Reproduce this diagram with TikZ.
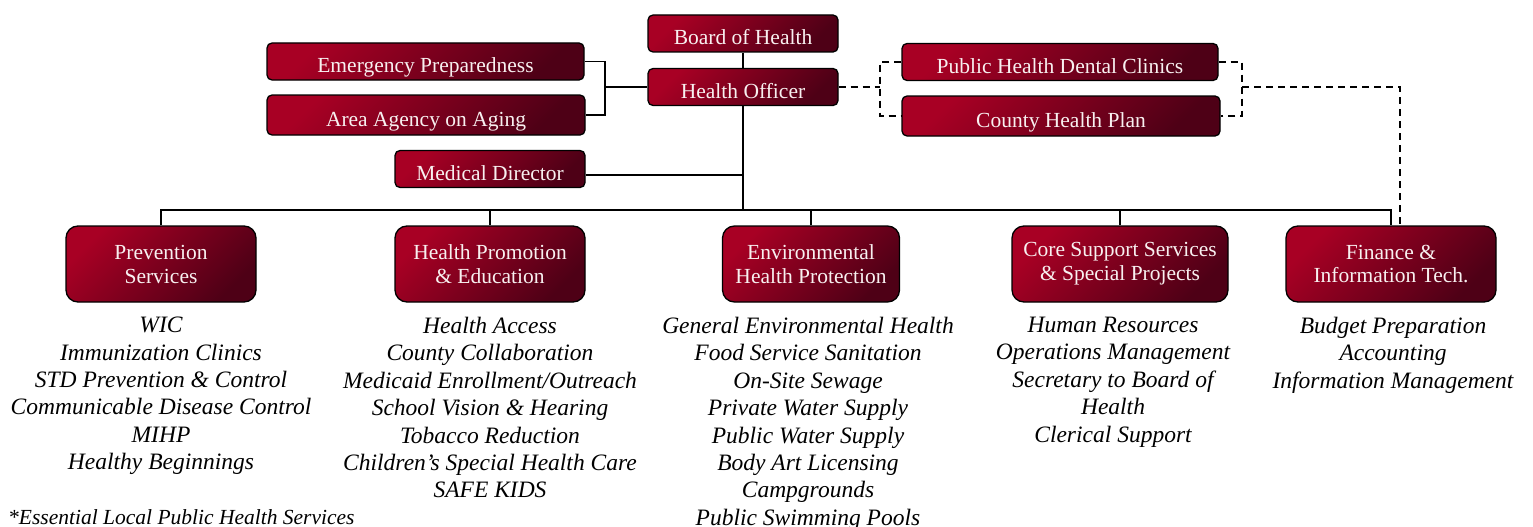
\documentclass[tikz,border=0pt]{standalone}
\usepackage{fontspec}
\setmainfont{Liberation Serif}
\definecolor{bright}{RGB}{168,0,36}
\definecolor{dark}{RGB}{78,0,22}
\definecolor{txt}{RGB}{248,240,240}
\begin{document}
\begin{tikzpicture}[x=1pt,y=-1pt,
 box/.style={draw=black, line width=1.3pt, rounded corners=5pt, top color=bright, bottom color=dark, shading angle=45, text=txt, font=\fontsize{21.5}{24}\selectfont, inner sep=0pt, align=center},
 small/.style={box, minimum height=37pt, text height=23pt, text depth=0pt},
 big/.style={box, rounded corners=12pt, minimum height=76pt},
 lst/.style={font=\fontsize{23.5}{27.4}\selectfont\itshape, align=center, anchor=north, inner sep=0pt},
 conn/.style={line width=1.5pt},
 dconn/.style={line width=1.5pt, dash pattern=on 7pt off 5pt}]
\useasboundingbox (0,0) rectangle (1533,527);

\node[small, minimum width=190pt] (boh) at (743,33.5) {Board of Health};
\node[small, minimum width=190pt] (ho) at (743,87) {Health Officer};
\node[small, minimum width=317pt] (ep) at (425.5,61.5) {Emergency Preparedness};
\node[small, minimum width=318pt, minimum height=40pt] (aa) at (426,115) {Area Agency on Aging};
\node[small, minimum width=190pt] (md) at (490,169) {Medical Director};
\node[small, minimum width=316pt] (pd) at (1060,62) {Public Health Dental Clinics};
\node[small, minimum width=318pt, minimum height=40pt] (ch) at (1061,116) {County Health Plan};

\node[big, minimum width=190pt] (prev) at (161,264) {Prevention\\Services};
\node[big, minimum width=190pt] (hp) at (490,264) {Health Promotion\\\& Education};
\node[big, minimum width=177pt] (env) at (811,264) {Environmental\\Health Protection};
\node[big, minimum width=216pt] (core) at (1120,264) {Core Support Services\\\& Special Projects};
\node[big, minimum width=210pt] (fin) at (1391,264) {Finance \&\\Information Tech.};

\node[lst] (l1) at (161,317) {WIC\\Immunization Clinics\\STD Prevention \& Control\\Communicable Disease Control\\MIHP\\Healthy Beginnings};
\node[lst] (l2) at (490,317) {Health Access\\County Collaboration\\Medicaid Enrollment/Outreach\\School Vision \& Hearing\\Tobacco Reduction\\Children’s Special Health Care\\SAFE KIDS};
\node[lst] (l3) at (808,317) {General Environmental Health\\Food Service Sanitation\\On-Site Sewage\\Private Water Supply\\Public Water Supply\\Body Art Licensing\\Campgrounds\\Public Swimming Pools};
\node[lst] (l4) at (1113,317) {Human Resources\\Operations Management\\Secretary to Board of\\Health\\Clerical Support};
\node[lst] (l5) at (1393,317) {Budget Preparation\\Accounting\\Information Management};
\node[anchor=west, font=\fontsize{21.5}{24}\selectfont\itshape, inner sep=0pt] (fn) at (8,517) {*Essential Local Public Health Services};

% connectors
\draw[conn] (boh) -- (ho);
\coordinate (brk) at (605,87);
\draw[conn] (ep.east) -| (brk) |- (aa.east);
\draw[conn] (brk) -- (ho.west);
\coordinate (mdj) at (743,175);
\draw[conn] (md.east |- mdj) -- (mdj);
\coordinate (bus) at (743,210);
\draw[conn] (ho.south) -- (bus);
\draw[conn] (prev.north) |- (bus) -| (fin.north);
\draw[conn] (hp.north) -- (hp.north |- bus);
\draw[conn] (env.north) -- (env.north |- bus);
\draw[conn] (core.north) -- (core.north |- bus);

\coordinate (dl) at (880,87);
\draw[dconn] (ho.east) -- (dl);
\draw[dconn] (pd.west) -| (dl) |- (ch.west);
\coordinate (dr) at (1242,87);
\draw[dconn] (pd.east) -| (dr) |- (ch.east);
\coordinate (fd) at (1400,87);
\draw[dconn] (dr) -- (fd) -- (fd |- fin.north);
\end{tikzpicture}
\end{document}
